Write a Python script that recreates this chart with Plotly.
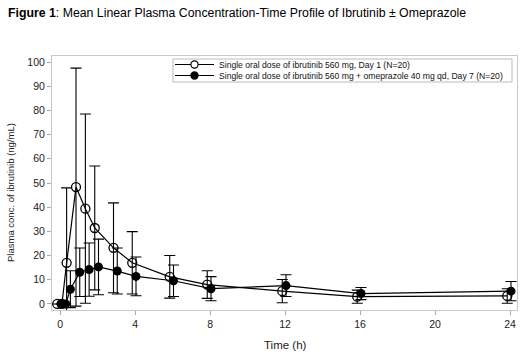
import plotly.graph_objects as go

# Nominal sampling times (h)
times = [0, 0.25, 0.5, 1, 1.5, 2, 3, 4, 6, 8, 12, 16, 24]

# Single oral dose of ibrutinib 560 mg, Day 1 (open circles)
mean_alone = [0, 0, 17.0, 48.3, 39.4, 31.4, 23.2, 17.0, 11.2, 8.0, 5.3, 3.0, 3.3]
sd_alone = [0, 0, 31.0, 49.2, 39.1, 25.6, 18.6, 12.9, 8.8, 5.7, 4.8, 2.7, 3.0]

# Ibrutinib 560 mg + omeprazole 40 mg qd, Day 7 (filled circles)
mean_omep = [0, 0, 6.1, 13.1, 14.2, 15.3, 13.6, 11.4, 9.6, 6.3, 7.6, 4.3, 5.3]
sd_omep = [0, 0, 7.6, 10.0, 11.0, 11.5, 9.5, 8.0, 6.5, 5.0, 4.5, 2.5, 4.0]

name_alone = "Single oral dose of ibrutinib 560 mg, Day 1 (N=20)"
name_omep = "Single oral dose of ibrutinib 560 mg + omeprazole 40 mg qd, Day 7 (N=20)"

x_ticks = [0, 4, 8, 12, 16, 20, 24]
y_ticks = [0, 10, 20, 30, 40, 50, 60, 70, 80, 90, 100]

dodge_alone = -0.15
dodge_omep = 0.05

FONT = "Liberation Sans, Arial, sans-serif"
W, H = 520, 356
ML, MR, MT, MB = 52, 3, 56, 46
PW, PH = W - ML - MR, H - MT - MB


def px(x):
    return (x - ML) / PW


def py(y):
    return 1 - (y - MT) / PH


fig = go.Figure()
fig.add_trace(go.Scatter(
    x=[t + dodge_alone for t in times], y=mean_alone, name=name_alone,
    mode="lines+markers",
    line=dict(color="black", width=1.2),
    marker=dict(symbol="circle-open", size=9, color="black", line=dict(width=1.3, color="black")),
    error_y=dict(type="data", array=sd_alone, visible=True, color="black", thickness=1.1, width=5.5),
))
fig.add_trace(go.Scatter(
    x=[t + dodge_omep for t in times], y=mean_omep, name=name_omep,
    mode="lines+markers",
    line=dict(color="black", width=1.2),
    marker=dict(symbol="circle", size=9, color="black"),
    error_y=dict(type="data", array=sd_omep, visible=True, color="black", thickness=1.1, width=5.5),
))

# Manual legend (box, sample lines, markers, labels)
shapes = [dict(type="rect", xref="paper", yref="paper",
               x0=px(173), x1=px(512), y0=py(82), y1=py(59),
               line=dict(color="#bbbbbb", width=1), fillcolor="white", layer="above")]
annotations = []
for i, (label, filled) in enumerate([(name_alone, False), (name_omep, True)]):
    yy = 64.5 + i * 11
    shapes.append(dict(type="line", xref="paper", yref="paper",
                       x0=px(175), x1=px(214), y0=py(yy), y1=py(yy),
                       line=dict(color="black", width=1.2), layer="above"))
    r = 3.6
    shapes.append(dict(type="circle", xref="paper", yref="paper",
                       x0=px(194.5 - r), x1=px(194.5 + r), y0=py(yy + r), y1=py(yy - r),
                       line=dict(color="black", width=1.2),
                       fillcolor="black" if filled else "white", layer="above"))
    annotations.append(dict(text=label, xref="paper", yref="paper", x=px(217), y=py(yy),
                            xanchor="left", yanchor="middle", showarrow=False,
                            font=dict(family=FONT, size=8.6, color="#111")))

annotations.append(dict(
    text="<b>Figure 1</b>: Mean Linear Plasma Concentration-Time Profile of Ibrutinib ± Omeprazole",
    xref="paper", yref="paper", x=px(6), y=py(4),
    xanchor="left", yanchor="top", showarrow=False,
    font=dict(family=FONT, size=12.3, color="black"),
))
annotations.append(dict(
    text="Time (h)", xref="paper", yref="paper", x=px(285), y=py(345),
    xanchor="center", yanchor="middle", showarrow=False,
    font=dict(family=FONT, size=11.5, color="#222"),
))
annotations.append(dict(
    text="Plasma conc. of ibrutinib (ng/mL)", xref="paper", yref="paper", x=px(10), y=py(193),
    xanchor="center", yanchor="middle", showarrow=False, textangle=-90,
    font=dict(family=FONT, size=9.5, color="#222"),
))

fig.update_layout(
    width=W, height=H,
    margin=dict(l=ML, r=MR, t=MT, b=MB, autoexpand=False),
    paper_bgcolor="white", plot_bgcolor="white",
    font=dict(family=FONT, size=10.5, color="#222"),
    showlegend=False,
    xaxis=dict(
        range=[-0.43, 24.37], tickvals=x_ticks, ticktext=[str(v) for v in x_ticks],
        showgrid=False, zeroline=False, showline=True, linecolor="#c8c8c8", mirror=True,
        ticks="outside", ticklen=4, tickcolor="#aaaaaa", automargin=False,
        tickfont=dict(size=10.5, color="#222"),
    ),
    yaxis=dict(
        range=[-2.5, 102.5], tickvals=y_ticks, ticktext=[str(v) for v in y_ticks],
        showgrid=False, zeroline=False, showline=True, linecolor="#c8c8c8", mirror=True,
        ticks="outside", ticklen=4, tickcolor="#aaaaaa", automargin=False,
        tickfont=dict(size=10.5, color="#222"),
    ),
    shapes=shapes,
    annotations=annotations,
)

fig.write_html("out.html",
               config={"displayModeBar": False},
               post_script="document.body.style.margin='0';document.body.style.padding='0';")
